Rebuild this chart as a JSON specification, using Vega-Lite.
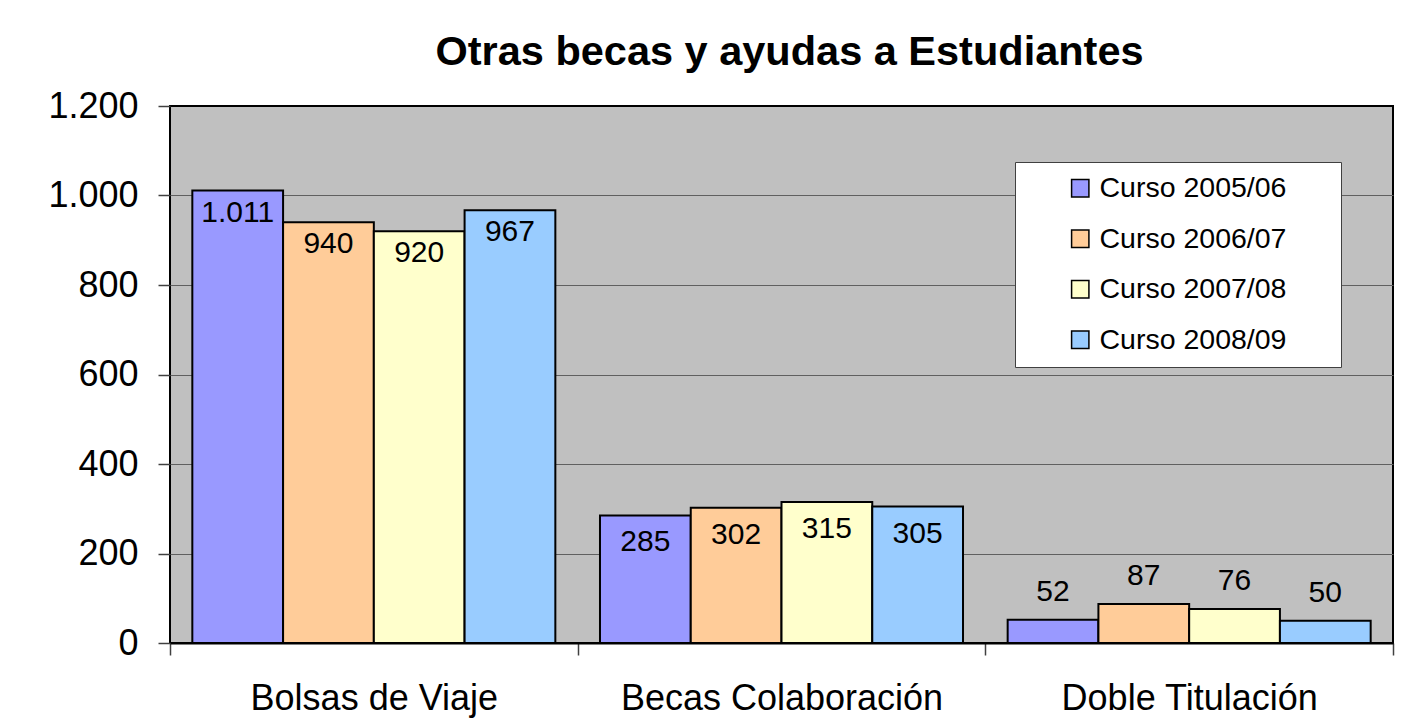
{
  "$schema": "https://vega.github.io/schema/vega-lite/v6.json",
  "autosize": {"type": "none"},
  "width": 1223,
  "height": 537,
  "padding": {"left": 170, "top": 106, "right": 13, "bottom": 82},
  "background": "white",
  "title": {
    "text": "Otras becas y ayudas a Estudiantes",
    "font": "Liberation Sans",
    "fontSize": 41.5,
    "fontWeight": "bold",
    "color": "black",
    "anchor": "middle",
    "frame": "group",
    "baseline": "alphabetic",
    "offset": -18,
    "dx": 8
  },
  "config": {
    "font": "Liberation Sans",
    "locale": {"number": {"decimal": ",", "thousands": ".", "grouping": [3], "currency": ["", " €"]}},
    "view": {"fill": "#c0c0c0", "stroke": "black", "strokeWidth": 2}
  },
  "data": {
    "values": [
      {"cat": "Bolsas de Viaje", "curso": "Curso 2005/06", "value": 1011},
      {"cat": "Bolsas de Viaje", "curso": "Curso 2006/07", "value": 940},
      {"cat": "Bolsas de Viaje", "curso": "Curso 2007/08", "value": 920},
      {"cat": "Bolsas de Viaje", "curso": "Curso 2008/09", "value": 967},
      {"cat": "Becas Colaboración", "curso": "Curso 2005/06", "value": 285},
      {"cat": "Becas Colaboración", "curso": "Curso 2006/07", "value": 302},
      {"cat": "Becas Colaboración", "curso": "Curso 2007/08", "value": 315},
      {"cat": "Becas Colaboración", "curso": "Curso 2008/09", "value": 305},
      {"cat": "Doble Titulación", "curso": "Curso 2005/06", "value": 52},
      {"cat": "Doble Titulación", "curso": "Curso 2006/07", "value": 87},
      {"cat": "Doble Titulación", "curso": "Curso 2007/08", "value": 76},
      {"cat": "Doble Titulación", "curso": "Curso 2008/09", "value": 50}
    ]
  },
  "encoding": {
    "x": {
      "field": "cat",
      "type": "nominal",
      "sort": ["Bolsas de Viaje", "Becas Colaboración", "Doble Titulación"],
      "scale": {"paddingInner": 0, "paddingOuter": 0},
      "axis": {
        "title": null,
        "labelAngle": 0,
        "labelFontSize": 36,
        "labelColor": "black",
        "labelLimit": 500,
        "labelPadding": 26,
        "labelBaseline": "top",
        "domainColor": "black",
        "domainWidth": 2,
        "tickBand": "extent",
        "tickSize": 12,
        "tickColor": "#404040",
        "tickWidth": 1.5,
        "grid": false
      }
    },
    "xOffset": {
      "field": "curso",
      "type": "nominal",
      "scale": {"paddingInner": 0, "paddingOuter": 0.246}
    },
    "y": {
      "field": "value",
      "type": "quantitative",
      "scale": {"domain": [0, 1200], "nice": false},
      "axis": {
        "title": null,
        "values": [0, 200, 400, 600, 800, 1000, 1200],
        "format": ",.0f",
        "labelFontSize": 36,
        "labelColor": "black",
        "labelPadding": 20,
        "domain": false,
        "tickSize": 12,
        "tickColor": "#404040",
        "tickWidth": 1.5,
        "grid": true,
        "gridColor": {"condition": {"test": "datum.value == 0 || datum.value == 1200", "value": "transparent"}, "value": "#606060"},
        "gridWidth": 1.2
      }
    }
  },
  "layer": [
    {
      "mark": {"type": "bar", "stroke": "black", "strokeWidth": 2},
      "encoding": {
        "color": {
          "field": "curso",
          "type": "nominal",
          "scale": {
            "domain": ["Curso 2005/06", "Curso 2006/07", "Curso 2007/08", "Curso 2008/09"],
            "range": ["#9999ff", "#ffcc99", "#ffffcc", "#99ccff"]
          },
          "legend": {
            "title": null,
            "orient": "none",
            "legendX": 845,
            "legendY": 56,
            "fillColor": "white",
            "strokeColor": "#404040",
            "padding": 12,
            "symbolType": "square",
            "symbolSize": 300,
            "symbolStrokeColor": "black",
            "symbolStrokeWidth": 1.5,
            "symbolOffset": 39,
            "labelOffset": 5,
            "labelFontSize": 28.5,
            "labelColor": "black",
            "labelLimit": 400,
            "rowPadding": 21.5,
            "labelExpr": "datum.label + '\u2800\u2800'"
          }
        }
      }
    },
    {
      "transform": [{"filter": "datum.cat == 'Bolsas de Viaje'"}],
      "mark": {"type": "text", "baseline": "middle", "fontSize": 30, "color": "black", "dy": 22},
      "encoding": {"text": {"field": "value", "type": "quantitative", "format": ","}}
    },
    {
      "transform": [{"filter": "datum.cat == 'Becas Colaboración'"}],
      "mark": {"type": "text", "baseline": "middle", "fontSize": 30, "color": "black", "dy": 27},
      "encoding": {"text": {"field": "value", "type": "quantitative", "format": ","}}
    },
    {
      "transform": [{"filter": "datum.cat == 'Doble Titulación'"}],
      "mark": {"type": "text", "baseline": "middle", "fontSize": 30, "color": "black", "dy": -28},
      "encoding": {"text": {"field": "value", "type": "quantitative", "format": ","}}
    }
  ]
}
